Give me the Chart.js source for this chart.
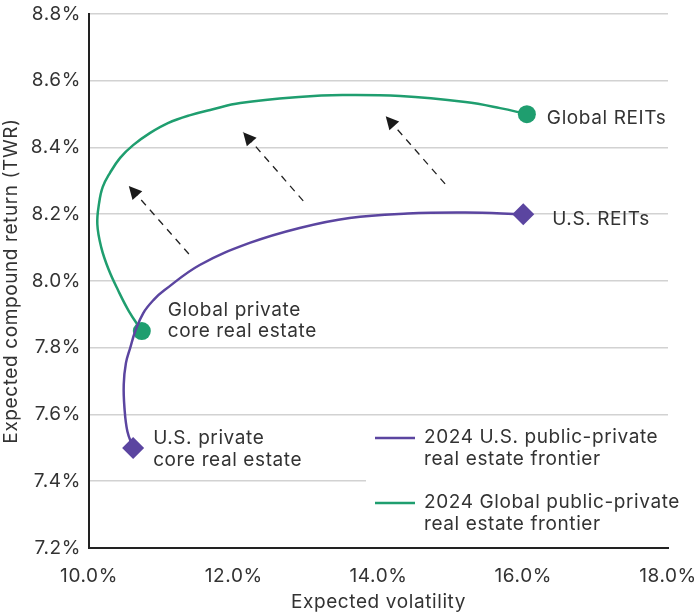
<!DOCTYPE html>
<html>
<head>
<meta charset="utf-8">
<script src="https://cdn.jsdelivr.net/npm/chart.js@4.4.1/dist/chart.umd.min.js"></script>
<style>
    html, body { margin: 0; padding: 0; background: #fff; }
    #wrap { width: 696px; height: 614px; }
</style>
</head>
<body>
<div id="wrap"><canvas id="frontierChart" width="696" height="614"></canvas></div>
<script>
// ===== Data =====
// U.S. frontier: private core (start) -> U.S. REITs (end)
const usVol = [10.61, 10.53, 10.49, 10.48, 10.51, 10.57, 10.64, 10.75, 10.90, 11.04, 11.53, 12.22, 12.91, 13.60, 14.40, 15.20, 16.00];
const usRet = [7.50, 7.55, 7.62, 7.69, 7.754, 7.80, 7.85, 7.904, 7.945, 7.972, 8.048, 8.114, 8.159, 8.189, 8.202, 8.205, 8.20];

// Global frontier: private core (start) -> Global REITs (end)
const globalVol = [10.73, 10.55, 10.40, 10.27, 10.17, 10.115, 10.14, 10.19, 10.29, 10.43, 10.61, 10.84, 11.09, 11.40, 11.70, 12.09, 12.90, 13.50, 14.30, 15.20, 15.68, 16.05];
const globalRet = [7.85, 7.91, 7.973, 8.035, 8.10, 8.17, 8.234, 8.282, 8.324, 8.369, 8.407, 8.443, 8.473, 8.497, 8.514, 8.533, 8.551, 8.557, 8.554, 8.536, 8.518, 8.50];

// Shift arrows (tail -> tip)
const arrowTailVol = [11.38, 12.96, 14.92];
const arrowTailRet = [8.081, 8.240, 8.291];
const arrowTipVol = [10.55, 12.13, 14.10];
const arrowTipRet = [8.285, 8.446, 8.494];

const xTicks = [10, 12, 14, 16, 18];
const yTicks = [7.2, 7.4, 7.6, 7.8, 8.0, 8.2, 8.4, 8.6, 8.8];

const seriesNames = ['2024 U.S. public-private\nreal estate frontier', '2024 Global public-private\nreal estate frontier'];
const endLabels = {
    usStart: 'U.S. private\ncore real estate',
    usEnd: 'U.S. REITs',
    globalStart: 'Global private\ncore real estate',
    globalEnd: 'Global REITs'
};

const PURPLE = '#5b45a0';
const GREEN = '#1f9e6f';
const TEXT = '#333333';
const FONT = 'Inter, "Liberation Sans", sans-serif';
const FONT_SIZE = 19;
const SPACING = '0.6px';

function toPoints(xs, ys) {
    return xs.map((x, i) => ({ x: x, y: ys[i] }));
}

function endsOnly(size) {
    return ctx => (ctx.dataIndex === 0 || ctx.dataIndex === ctx.dataset.data.length - 1) ? size : 0;
}

const datasets = [
    {
        label: seriesNames[0],
        data: toPoints(usVol, usRet),
        borderColor: PURPLE,
        backgroundColor: PURPLE,
        borderWidth: 2.5,
        tension: 0.4,
        capBezierPoints: false,
        pointStyle: 'rectRot',
        pointRadius: endsOnly(11),
        pointHoverRadius: endsOnly(11),
        pointBorderWidth: 0
    },
    {
        label: seriesNames[1],
        data: toPoints(globalVol, globalRet),
        borderColor: GREEN,
        backgroundColor: GREEN,
        borderWidth: 2.5,
        tension: 0.4,
        capBezierPoints: false,
        pointStyle: 'circle',
        pointRadius: endsOnly(9),
        pointHoverRadius: endsOnly(9),
        pointBorderWidth: 0
    }
];

// dashed shift arrows, heads added by the plugin below
arrowTailVol.forEach((v, i) => {
    datasets.push({
        label: 'arrow' + i,
        data: [{ x: v, y: arrowTailRet[i] }, { x: arrowTipVol[i], y: arrowTipRet[i] }],
        borderColor: '#222',
        borderWidth: 1.3,
        borderDash: [7, 6],
        tension: 0,
        pointRadius: 0
    });
});

// slightly wider lettering for all canvas text
const letterSpacing = {
    id: 'letterSpacing',
    beforeDraw(chart) {
        chart.ctx.letterSpacing = SPACING;
    }
};

// ===== Annotations plugin: arrow heads, point labels, legend box =====
const annotations = {
    id: 'annotations',
    afterDatasetsDraw(chart) {
        const c = chart.ctx;
        const xs = chart.scales.x;
        const ys = chart.scales.y;

        // arrow heads (drawn over the last dash)
        arrowTipVol.forEach((v, i) => {
            const tx = xs.getPixelForValue(v), ty = ys.getPixelForValue(arrowTipRet[i]);
            const fx = xs.getPixelForValue(arrowTailVol[i]), fy = ys.getPixelForValue(arrowTailRet[i]);
            const ang = Math.atan2(ty - fy, tx - fx);
            const len = 13, half = 6.5;
            c.save();
            c.translate(tx, ty);
            c.rotate(ang);
            c.fillStyle = '#1a1a1a';
            c.beginPath();
            c.moveTo(0, 0);
            c.lineTo(-len, -half);
            c.lineTo(-len, half);
            c.closePath();
            c.fill();
            c.restore();
        });

        c.save();
        c.font = FONT_SIZE + 'px ' + FONT;
        c.letterSpacing = SPACING;
        c.fillStyle = TEXT;
        c.textBaseline = 'middle';
        c.textAlign = 'left';

        const drawLines = (text, x, y, lh) => {
            text.split('\n').forEach((t, i) => c.fillText(t, x, y + i * lh));
        };
        const px = (v) => xs.getPixelForValue(v);
        const py = (v) => ys.getPixelForValue(v);
        const last = (a) => a[a.length - 1];

        drawLines(endLabels.globalEnd, px(last(globalVol)) + 20, py(last(globalRet)) + 4, 21);
        drawLines(endLabels.usEnd, px(last(usVol)) + 29, py(last(usRet)) + 5, 21);
        drawLines(endLabels.globalStart, px(globalVol[0]) + 26, py(globalRet[0]) - 21, 21);
        drawLines(endLabels.usStart, px(usVol[0]) + 20, py(usRet[0]) - 10, 22);

        // legend box sits over the lower gridlines
        const area = chart.chartArea;
        const bx = 366, by = 419;
        c.fillStyle = '#fff';
        c.fillRect(bx, by, area.right - bx + 2, area.bottom - by - 2);

        const swatch = [PURPLE, GREEN];
        seriesNames.forEach((name, i) => {
            const y0 = 438 + i * 65;
            c.strokeStyle = swatch[i];
            c.lineWidth = 2.5;
            c.beginPath();
            c.moveTo(375, y0);
            c.lineTo(415, y0);
            c.stroke();
            c.fillStyle = TEXT;
            drawLines(name, 424, y0 - 1, 22);
        });
        c.restore();
    }
};

const tickFont = { family: FONT, size: FONT_SIZE };

new Chart(document.getElementById('frontierChart'), {
    type: 'line',
    data: { datasets: datasets },
    options: {
        responsive: false,
        animation: false,
        layout: { padding: 0 },
        plugins: {
            legend: { display: false },
            tooltip: { enabled: false }
        },
        scales: {
            x: {
                type: 'linear',
                min: xTicks[0],
                max: xTicks[xTicks.length - 1],
                afterBuildTicks: s => { s.ticks = xTicks.map(v => ({ value: v })); },
                afterFit: s => {
                    s.height = 66;
                    s.paddingRight = 28;
                    s.paddingLeft = 0;
                },
                grid: { display: false, drawTicks: false },
                border: { display: true, color: '#222', width: 2 },
                ticks: {
                    padding: 17,
                    color: TEXT,
                    font: tickFont,
                    maxRotation: 0,
                    callback: v => v.toFixed(1) + '%'
                },
                title: {
                    display: true,
                    text: 'Expected volatility',
                    color: TEXT,
                    font: tickFont,
                    padding: { top: 0, bottom: 0 }
                }
            },
            y: {
                type: 'linear',
                min: yTicks[0],
                max: yTicks[yTicks.length - 1],
                afterBuildTicks: s => { s.ticks = yTicks.map(v => ({ value: v })); },
                afterFit: s => {
                    s.width = 89;
                    s.paddingTop = 14;
                    s.paddingBottom = 0;
                },
                grid: { color: '#d2d2d2', lineWidth: 1.6, drawTicks: false },
                border: { display: true, color: '#222', width: 2 },
                ticks: {
                    padding: 8,
                    color: TEXT,
                    font: tickFont,
                    callback: v => v.toFixed(1) + '%'
                },
                title: {
                    display: true,
                    text: 'Expected compound return (TWR)',
                    color: TEXT,
                    font: tickFont,
                    padding: { top: 0, bottom: 0 }
                }
            }
        }
    },
    plugins: [letterSpacing, annotations]
});
</script>
</body>
</html>
